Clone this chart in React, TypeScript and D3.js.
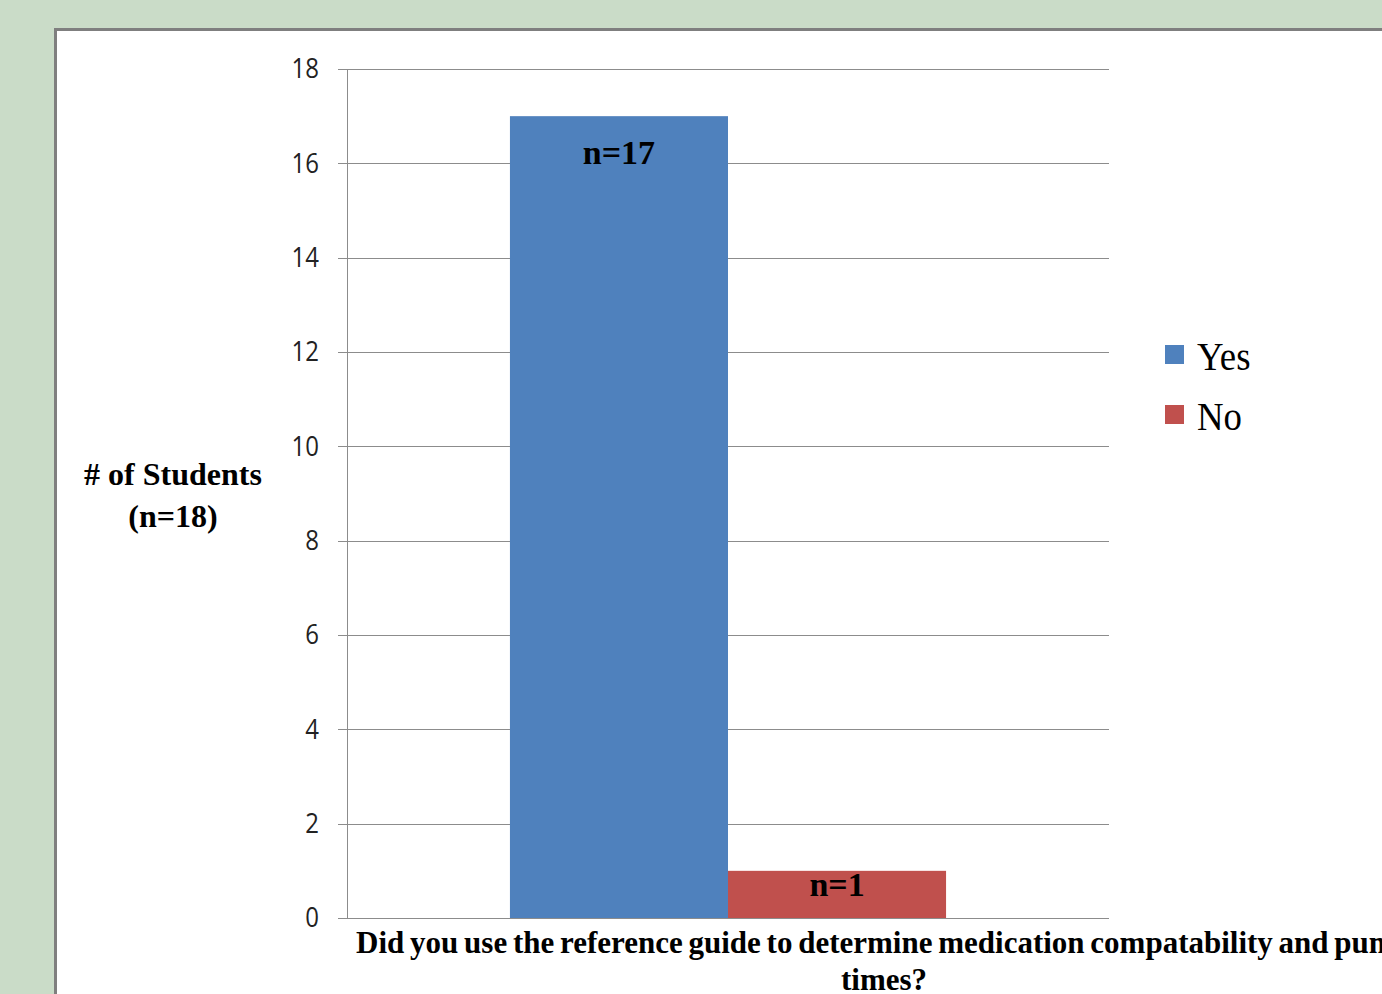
import React from "react";
import * as d3 from "d3";

// Survey responses
const categories = ["Did you use the reference guide"];
const seriesNames = ["Yes", "No"];
const seriesValues = [17, 1];
const seriesColors = ["#4F81BD", "#C0504D"];
const yTicks = [0, 2, 4, 6, 8, 10, 12, 14, 16, 18];
const xTitleLines = [
  "Did you use the reference guide to determine medication compatability and pump",
  "times?",
];
const yTitleLines = ["# of Students", "(n=18)"];

const W = 1382;
const H = 994;
const plot = { left: 347, right: 1109, top: 69, bottom: 918 };

export default function App() {
  const y = d3.scaleLinear().domain([0, 18]).range([plot.bottom, plot.top]);
  const x0 = d3
    .scaleBand<string>()
    .domain(categories)
    .range([plot.left, plot.right])
    .padding(0.272);
  const x1 = d3
    .scaleBand<string>()
    .domain(seriesNames)
    .range([0, x0.bandwidth()])
    .padding(0);

  const serif = "'Liberation Serif', 'Times New Roman', serif";
  const sans = "'Open Sans', 'Liberation Sans', sans-serif";

  return (
    <svg
      width={W}
      height={H}
      style={{ position: "absolute", left: 0, top: 0, display: "block" }}
    >
      <rect x={0} y={0} width={W} height={H} fill="#CADCC8" />
      <rect x={55.5} y={29.5} width={W} height={H} fill="#FFFFFF" stroke="#7F7F7F" strokeWidth={3} />

      {/* horizontal gridlines + tick marks */}
      {yTicks.map((t) => (
        <g key={t}>
          <line x1={338} x2={plot.right} y1={Math.round(y(t)) + 0.5} y2={Math.round(y(t)) + 0.5} stroke="#8C8C8C" strokeWidth={1} />
          <text
            x={319}
            y={y(t)}
            dy="0.36em"
            textAnchor="end"
            fontFamily={sans}
            fontSize={24}
            fill="#222"
            transform={`translate(0 ${y(t)}) scale(1 1.1) translate(0 ${-y(t)})`}
          >
            {t}
          </text>
        </g>
      ))}
      <line x1={plot.left + 0.5} x2={plot.left + 0.5} y1={plot.top} y2={plot.bottom} stroke="#8C8C8C" strokeWidth={1} />

      {/* bars */}
      {categories.map((c) =>
        seriesNames.map((s, i) => {
          const bx = (x0(c) ?? 0) + (x1(s) ?? 0);
          const by = y(seriesValues[i]);
          return (
            <g key={c + s}>
              <rect x={bx} y={by} width={x1.bandwidth()} height={plot.bottom - by} fill={seriesColors[i]} />
              <text
                x={bx + x1.bandwidth() / 2}
                y={Math.min(by + 48, plot.bottom - 22)}
                textAnchor="middle"
                fontFamily={serif}
                fontWeight="bold"
                fontSize={34}
                fill="#000"
              >
                {`n=${seriesValues[i]}`}
              </text>
            </g>
          );
        })
      )}

      {/* y-axis title */}
      {yTitleLines.map((l, i) => (
        <text
          key={l}
          x={173}
          y={485 + i * 42}
          textAnchor="middle"
          fontFamily={serif}
          fontWeight="bold"
          fontSize={32}
          fill="#000"
        >
          {l}
        </text>
      ))}

      {/* x-axis title */}
      {xTitleLines.map((l, i) => (
        <text
          key={l}
          x={884}
          y={953 + i * 37}
          textAnchor="middle"
          fontFamily={serif}
          fontWeight="bold"
          fontSize={31}
          fill="#000"
          wordSpacing={-2}
        >
          {l}
        </text>
      ))}

      {/* legend */}
      {seriesNames.map((s, i) => (
        <g key={s} transform={`translate(1165 ${345 + i * 60})`}>
          <rect x={0} y={0} width={19} height={19} fill={seriesColors[i]} />
          <text
            x={32}
            y={25}
            fontFamily={serif}
            fontSize={40}
            fill="#000"
            transform="scale(0.92 1)"
            style={{ transformOrigin: "32px 0px" }}
          >
            {s}
          </text>
        </g>
      ))}
    </svg>
  );
}
